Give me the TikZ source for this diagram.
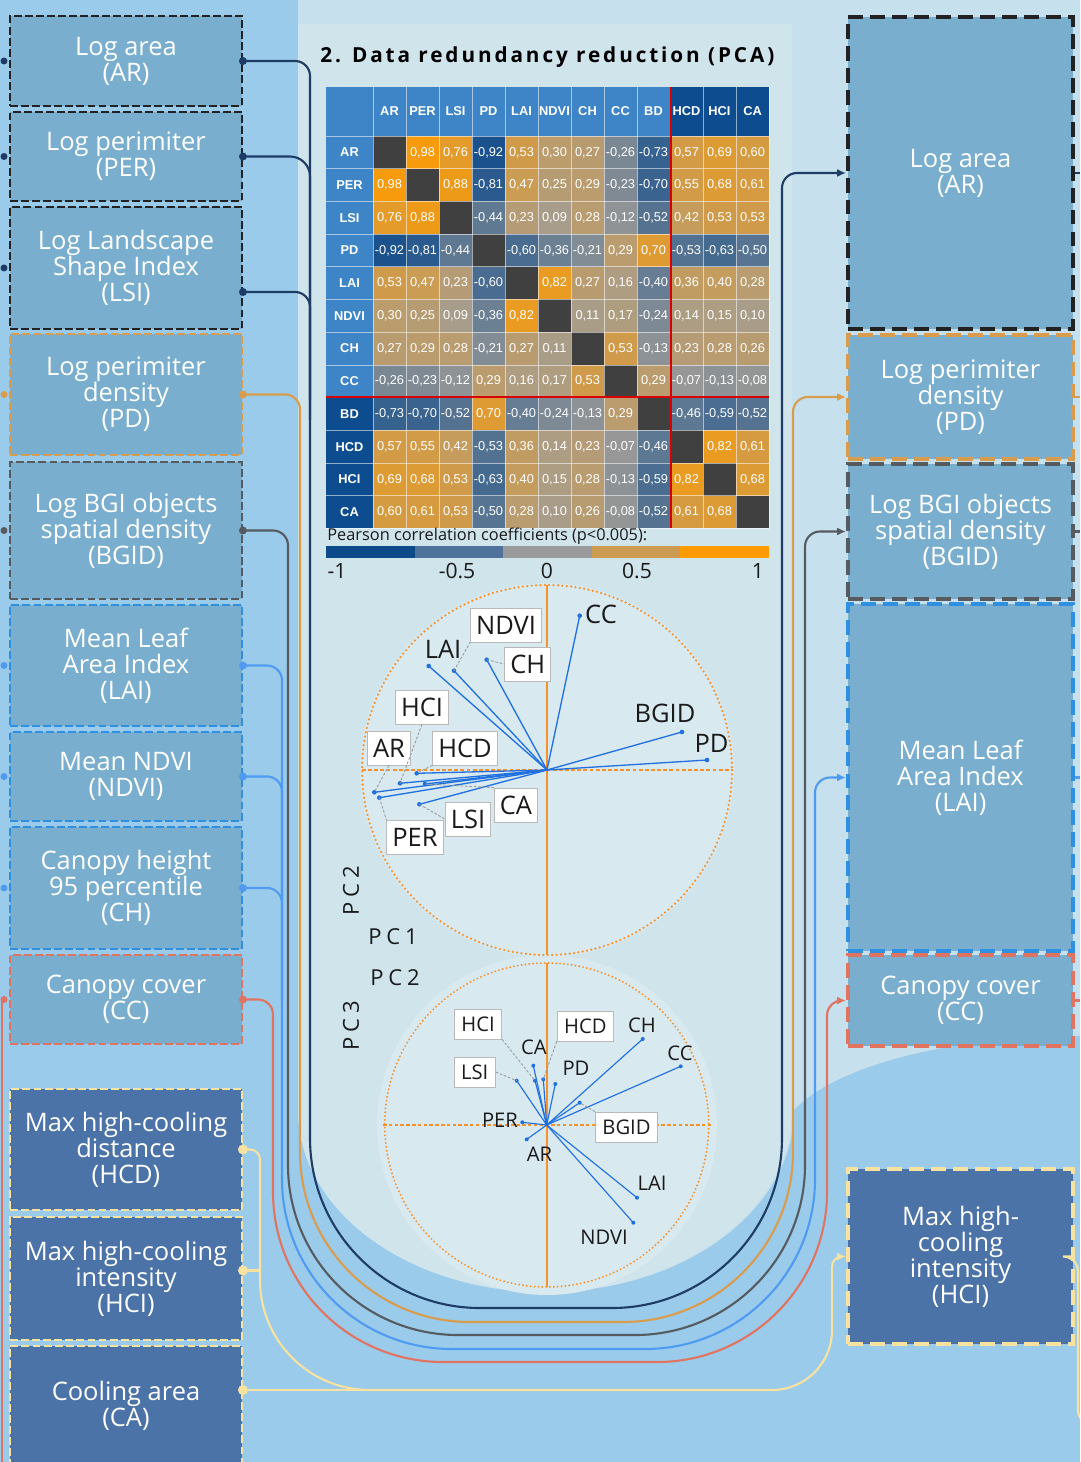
\documentclass[tikz,border=0pt]{standalone}
\usepackage{fontspec}
\setmainfont{Open Sans}
\newfontfamily\tablefont{Liberation Sans}
\definecolor{bgblue}{HTML}{9ACBEB}
\definecolor{bgpale}{HTML}{C6E0EE}
\definecolor{panel}{HTML}{D0E4EC}
\definecolor{disc}{HTML}{D8E9F0}
\definecolor{boxsteel}{HTML}{79AECE}
\definecolor{boxnavy}{HTML}{4B73A7}
\definecolor{lnavy}{HTML}{1E3C66}
\definecolor{ldark}{HTML}{222222}
\definecolor{lorange}{HTML}{D99B4C}
\definecolor{lgray}{HTML}{565B60}
\definecolor{lblue}{HTML}{4F9BF2}
\definecolor{bblue}{HTML}{2F8FE0}
\definecolor{lred}{HTML}{E07460}
\definecolor{lyellow}{HTML}{F8E2A0}
\definecolor{vecblue}{HTML}{2070E0}
\definecolor{axisor}{HTML}{F7922A}
\definecolor{headblue}{HTML}{3D85C6}
\definecolor{headnavy}{HTML}{0D4C8E}
\definecolor{negc}{HTML}{0F4C8C}
\definecolor{midc}{HTML}{A09D97}
\definecolor{posc}{HTML}{F99A08}
\definecolor{diagc}{HTML}{404040}
\definecolor{leg1}{HTML}{0D4A8A}
\definecolor{leg2}{HTML}{4F729C}
\definecolor{leg3}{HTML}{9B9B9B}
\definecolor{leg4}{HTML}{CB9B52}
\definecolor{leg5}{HTML}{FF9B00}
\definecolor{inktext}{HTML}{1A1A1A}
\usepackage{tikz}
\usetikzlibrary{calc, positioning, arrows.meta}

\begin{document}
\begin{tikzpicture}[x=0.02cm, y=-0.02cm,
  vbox/.style={draw, line width=1.1pt, dash pattern=on 4.5pt off 1.8pt, text=white, align=center,
    minimum width=4.64cm, inner sep=0pt, font=\fontsize{14.5}{14.8}\selectfont},
  rbox/.style={vbox, line width=2.3pt, dash pattern=on 8.5pt off 4pt, minimum width=4.5cm},
  wire/.style={line width=1.2pt},
  arrowin/.style={-{Latex[length=5pt,width=4.5pt]}},
  pcring/.style={draw=axisor, line width=1.4pt, line cap=round, dash pattern=on 0pt off 2.5pt},
  pcaxis/.style={draw=axisor, line width=1.2pt},
  vec/.style={draw=vecblue, line width=0.75pt},
  lead/.style={draw=gray!80, line width=0.5pt, dash pattern=on 1.5pt off 1pt},
  plab/.style={text=inktext, inner sep=1pt, font=\fontsize{14.5}{15}\selectfont},
  blab/.style={plab, draw=gray!55, fill=white, inner xsep=3.2pt, minimum height=0.68cm},
  slab/.style={text=inktext, inner sep=1pt, font=\fontsize{11.5}{12}\selectfont},
  sblab/.style={slab, draw=gray!55, fill=white, inner xsep=4pt, minimum height=0.6cm},
  pclab/.style={text=inktext, font=\fontsize{12.5}{14}\selectfont\addfontfeatures{LetterSpace=22}},
  celltxt/.style={text=white, inner sep=0pt, font=\tablefont\fontsize{7.3}{8}\selectfont},
  headtxt/.style={celltxt, font=\tablefont\bfseries\fontsize{7.3}{8}\selectfont}]

  \useasboundingbox (0,0) rectangle (1080,1462);
  \clip (0,0) rectangle (1080,1462);

  % Backgrounds
  \fill[bgblue] (0,0) rectangle (1080,1462);
  \fill[bgpale] (298,0) -- (1080,0) -- (1080,1036) .. controls (940,1036) and (830,1070) .. (794,1110)
    arc[start angle=0, end angle=180, x radius=248, y radius=182] -- cycle;
  \fill[panel] (298,24) -- (792,24) -- (792,1110)
    arc[start angle=0, end angle=180, x radius=247, y radius=182] -- cycle;
  \fill[disc] (547,770) circle[radius=187];
  \fill[disc] (547,1125) circle[radius=170];

  % Left: input variables
  \foreach \nm/\yc/\hh/\dy/\bc/\wc/\fc/\txt in {
    AR/61/1.8/0/ldark/lnavy/boxsteel/{Log area\\(AR)},
    PER/156.5/1.78/0/ldark/lnavy/boxsteel/{Log perimiter\\(PER)},
    LSI/268/2.44/24/ldark/lnavy/boxsteel/{Log Landscape\\Shape Index\\(LSI)},
    PD/394.5/2.42/0/lorange/lorange/boxsteel/{Log perimiter\\density\\(PD)},
    BGID/530.5/2.74/0/lgray/lgray/boxsteel/{Log BGI objects\\spatial density\\(BGID)},
    LAI/665.5/2.42/0/bblue/lblue/boxsteel/{Mean Leaf\\Area Index\\(LAI)},
    NDVI/776.5/1.78/0/bblue/lblue/boxsteel/{Mean NDVI\\(NDVI)},
    CH/888/2.44/0/bblue/lblue/boxsteel/{Canopy height\\95 percentile\\(CH)},
    CC/999.5/1.78/0/lred/lred/boxsteel/{Canopy cover\\(CC)},
    HCD/1149.5/2.42/0/lyellow/lyellow/boxnavy/{Max high-cooling\\distance\\(HCD)},
    HCI/1278.5/2.46/-8/lyellow/lyellow/boxnavy/{Max high-cooling\\intensity\\(HCI)},
    CA/1406/2.4/-16/lyellow/lyellow/boxnavy/{Cooling area\\(CA)}}{
    \node[vbox, draw=\bc, fill=\fc, minimum height=\hh cm] (l\nm) at (126,\yc) {\txt};
    \coordinate (d\nm) at ($(l\nm.east)+(0,\dy)$);
  }
  \foreach \yc/\wc in {61/lnavy, 156.5/lnavy, 268/lnavy, 394.5/lorange, 530.5/lgray,
    665.5/lblue, 776.5/lblue, 888/lblue, 999.5/lred}
    \fill[\wc] (4,\yc) circle[radius=3.5];
  \coordinate (sCC) at (2,1462);
  \draw[wire, lred] (2,999.5) -- (sCC);

  % Right: retained variables
  \foreach \nm/\yc/\hh/\bc/\fc/\txt in {
    AR/173/6.24/ldark/boxsteel/{Log area\\(AR)},
    PD/397/2.48/lorange/boxsteel/{Log perimiter\\density\\(PD)},
    BGID/531.5/2.7/lgray/boxsteel/{Log BGI objects\\spatial density\\(BGID)},
    LAI/777.5/6.94/bblue/boxsteel/{Mean Leaf\\Area Index\\(LAI)},
    CC/1000.5/1.82/lred/boxsteel/{Canopy cover\\(CC)},
    HCI/1256.5/3.5/lyellow/boxnavy/{Max high-\\cooling\\intensity\\(HCI)}}
    \node[rbox, draw=\bc, fill=\fc, minimum height=\hh cm] (r\nm) at (960.5,\yc) {\txt};
  \coordinate (edge) at (1080,0);
  \foreach \nm/\wc in {AR/lnavy, PD/lorange, BGID/lgray, LAI/lblue, CC/lred}
    \draw[wire, \wc] (r\nm.east) -- (r\nm.east -| edge);
  \coordinate (eHCI) at (1080,1425);
  \draw[wire, lyellow, rounded corners=0.3cm] (rHCI.east) -- ++(3,0) |- (eHCI);

  % Connectors round the PCA panel
  \draw[wire, lnavy, arrowin] (dAR) [rounded corners=0.3cm] -- (310,61) [rounded corners=3.4cm]
    -- (310,1308) -- (782,1308) [rounded corners=0.3cm] -- (782,173) -- (rAR.west);
  \draw[wire, lnavy] (dPER) [rounded corners=0.4cm] -- (310,156.5) -- (310,400);
  \draw[wire, lnavy] (dLSI) [rounded corners=0.3cm] -- (310,292) -- (310,420);
  \draw[wire, lorange, arrowin] (dPD) [rounded corners=0.3cm] -- (300,394.5) [rounded corners=3.4cm]
    -- (300,1322) -- (793,1322) [rounded corners=0.3cm] -- (793,397) -- (rPD.west);
  \draw[wire, lgray, arrowin] (dBGID) [rounded corners=0.3cm] -- (288,530.5) [rounded corners=3.4cm]
    -- (288,1335) -- (805,1335) [rounded corners=0.3cm] -- (805,531.5) -- (rBGID.west);
  \draw[wire, lblue, arrowin] (dLAI) [rounded corners=0.3cm] -- (282,665.5) [rounded corners=3.4cm]
    -- (282,1349) -- (815,1349) [rounded corners=0.3cm] -- (815,777.5) -- (rLAI.west);
  \draw[wire, lblue] (dNDVI) [rounded corners=0.3cm] -- (282,776.5) -- (282,900);
  \draw[wire, lblue] (dCH) [rounded corners=0.3cm] -- (282,888) -- (282,1000);
  \draw[wire, lred, arrowin] (dCC) [rounded corners=0.3cm] -- (273,999.5) [rounded corners=3.4cm]
    -- (273,1362) -- (827,1362) [rounded corners=0.3cm] -- (827,1000.5) -- (rCC.west);
  \draw[wire, lyellow, arrowin] (dHCD) [rounded corners=0.2cm] -- (260,1149.5) [rounded corners=2.2cm]
    -- (260,1390) [rounded corners=1.2cm] -- (832,1390) [rounded corners=0.2cm] -- (832,1256.5)
    -- (rHCI.west);
  \draw[wire, lyellow] (dHCI) -- (260,1270.5);
  \draw[wire, lyellow] (dCA) -- (600,1390);
  \foreach \nm/\wc/\rr in {AR/lnavy/4, PER/lnavy/4, LSI/lnavy/4, PD/lorange/4, BGID/lgray/4,
    LAI/lblue/4, NDVI/lblue/4, CH/lblue/4, CC/lred/4, HCD/lyellow/5, HCI/lyellow/5, CA/lyellow/5}
    \fill[\wc] (d\nm) circle[radius=\rr];

  % Title
  \node[anchor=west, inner sep=0pt, text=black,
    font=\fontsize{11.8}{13}\selectfont\bfseries\addfontfeatures{LetterSpace=14}]
    (title) at (320,57) {2. Data redundancy reduction (PCA)};

  % Correlation matrix
  \fill[headblue] (326,87) rectangle (671,136);
  \fill[headnavy] (671,87) rectangle (769,136);
  \fill[headblue] (326,136) rectangle (373,397);
  \fill[headnavy] (326,397) rectangle (373,528);
  \foreach \lab [count=\ii from 0] in {AR,PER,LSI,PD,LAI,NDVI,CH,CC,BD,HCD,HCI,CA}{
    \node[headtxt] (ch\ii) at (389.5+33*\ii,111.5) {\lab};
    \node[headtxt] (rh\ii) at (349.5,152.35+32.7*\ii) {\lab};
  }
  \foreach \row [count=\ri from 0] in {
    {2,0.98,0.76,-0.92,0.53,0.30,0.27,-0.26,-0.73,0.57,0.69,0.60},
    {0.98,2,0.88,-0.81,0.47,0.25,0.29,-0.23,-0.70,0.55,0.68,0.61},
    {0.76,0.88,2,-0.44,0.23,0.09,0.28,-0.12,-0.52,0.42,0.53,0.53},
    {-0.92,-0.81,-0.44,2,-0.60,-0.36,-0.21,0.29,0.70,-0.53,-0.63,-0.50},
    {0.53,0.47,0.23,-0.60,2,0.82,0.27,0.16,-0.40,0.36,0.40,0.28},
    {0.30,0.25,0.09,-0.36,0.82,2,0.11,0.17,-0.24,0.14,0.15,0.10},
    {0.27,0.29,0.28,-0.21,0.27,0.11,2,0.53,-0.13,0.23,0.28,0.26},
    {-0.26,-0.23,-0.12,0.29,0.16,0.17,0.53,2,0.29,-0.07,-0.13,-0.08},
    {-0.73,-0.70,-0.52,0.70,-0.40,-0.24,-0.13,0.29,2,-0.46,-0.59,-0.52},
    {0.57,0.55,0.42,-0.53,0.36,0.14,0.23,-0.07,-0.46,2,0.82,0.61},
    {0.69,0.68,0.53,-0.63,0.40,0.15,0.28,-0.13,-0.59,0.82,2,0.68},
    {0.60,0.61,0.53,-0.50,0.28,0.10,0.26,-0.08,-0.52,0.61,0.68,2}}{
    \foreach \val [count=\ci from 0] in \row {
      \pgfmathsetmacro\cx{373+33*\ci}
      \pgfmathsetmacro\cy{136+32.7*\ri}
      \ifdim\val pt>1.5pt
        \fill[diagc] (\cx,\cy) rectangle ++(33,32.7);
      \else
        \pgfmathtruncatemacro\pc{round(abs(\val)*100)}
        \ifdim\val pt<0pt \colorlet{cellc}{negc!\pc!midc}\else \colorlet{cellc}{posc!\pc!midc}\fi
        \fill[cellc] (\cx,\cy) rectangle ++(33,32.7);
        \node[celltxt] (m\ri-\ci) at (\cx+16.5,\cy+16.35)
          {\pgfmathprintnumber[fixed, fixed zerofill, precision=2, use comma, assume math mode=true]{\val}};
      \fi
    }
  }
  \foreach \ci in {0,...,12}
    \draw[white, opacity=0.55, line width=0.4pt] (373+33*\ci,87) -- (373+33*\ci,528);
  \foreach \ri in {0,...,12}
    \draw[white, opacity=0.55, line width=0.4pt] (326,136+32.7*\ri) -- (769,136+32.7*\ri);
  \draw[red!85!black, line width=0.6pt] (671,87) -- (671,528);
  \draw[red!85!black, line width=0.6pt] (326,397) -- (769,397);

  % Colour key
  \node[anchor=west, inner sep=0pt, text=inktext, font=\fontsize{9.3}{11}\selectfont]
    (legtitle) at (327,536) {Pearson correlation coefficients (p<0.005):};
  \foreach \cc [count=\ii from 0] in {leg1,leg2,leg3,leg4,leg5}
    \fill[\cc] (326+88.6*\ii,546) rectangle ++(88.6,12);
  \foreach \t/\tx in {-1/337, -0.5/457, 0/547, 0.5/637, 1/758}
    \node[text=inktext, font=\fontsize{12}{14}\selectfont] (tk\tx) at (\tx,571) {\t};

  % PC1 / PC2 loadings
  \coordinate (o1) at (547,770);
  \draw[pcaxis, dash pattern=on 2.2pt off 1.3pt] (362,770) -- (733,770);
  \draw[pcaxis] (547,585) -- (547,955);
  \draw[pcring] (o1) circle[radius=185];
  \foreach \nm/\px/\py in {CC/579.7/615.7, BGID/682/732, PD/707/760, LAI/428.7/666,
    NDVI/454/670.7, CH/486.7/659.7, HCD/416.7/773.3, HCI/400/783.3, CA/425/784,
    AR/374.3/792.3, PER/379.3/797.7, LSI/419.3/804.3}{
    \draw[vec] (o1) -- (\px,\py) coordinate (a\nm);
    \fill[vecblue] (a\nm) circle[radius=2.3];
  }
  \foreach \nm/\px/\py in {CC/601/614, BGID/665/713, PD/711.5/743, LAI/443/649}
    \node[plab] (t\nm) at (\px,\py) {\nm};
  \foreach \nm/\px/\py in {NDVI/506/625, CH/527.7/664, HCI/422/707, AR/389/748,
    HCD/465/748, CA/516/805, LSI/468/819, PER/415/837}
    \node[blab] (t\nm) at (\px,\py) {\nm};
  \draw[lead] (aNDVI) -- (tNDVI.south west);
  \draw[lead] (aCH) -- (tCH.west);
  \draw[lead] (tHCI.south) -- (aHCI);
  \draw[lead] (tAR.south) -- (aAR);
  \draw[lead] (tHCD.south west) -- (aHCD);
  \draw[lead] (tCA.north west) -- (aCA);
  \draw[lead] (aLSI) -- (tLSI.west);
  \draw[lead] (aPER) -- (tPER.north west);
  \node[pclab, rotate=90] (pc2a) at (351,891) {PC2};
  \node[pclab] (pc1) at (393,937) {PC1};

  % PC2 / PC3 loadings
  \coordinate (o2) at (546.7,1125);
  \draw[pcaxis, line width=1pt, dash pattern=on 2pt off 1.3pt] (383,1125) -- (712,1125);
  \draw[pcaxis, line width=1pt] (546.7,963) -- (546.7,1287);
  \draw[pcring, line width=1.2pt, dash pattern=on 0pt off 2.2pt] (o2) circle[radius=162];
  \foreach \nm/\px/\py in {CH/642.7/1039, CC/680.7/1066.3, BGID/579.7/1102.7, PD/555.3/1084,
    CA/533.3/1065.7, HCI/535/1080.7, HCD/543.3/1079.3, LSI/516.7/1080.7, PER/522.3/1122.3,
    AR/526.7/1139.3, LAI/637/1197.7, NDVI/633.3/1222.7}{
    \draw[vec, line width=0.65pt] (o2) -- (\px,\py) coordinate (b\nm);
    \fill[vecblue] (b\nm) circle[radius=2];
  }
  \foreach \nm/\px/\py in {CH/642/1025, CC/680/1053, PD/576/1068, CA/534/1047, PER/500/1120,
    AR/539.5/1154, LAI/652/1183, NDVI/604/1237}
    \node[slab] (u\nm) at (\px,\py) {\nm};
  \foreach \nm/\px/\py in {HCI/478/1024, HCD/585.3/1026, LSI/474.7/1072, BGID/626.5/1127}
    \node[sblab] (u\nm) at (\px,\py) {\nm};
  \draw[lead] (uHCI.south east) -- (bHCI);
  \draw[lead] (uHCD.south west) -- (bHCD);
  \draw[lead] (uLSI.east) -- (bLSI);
  \draw[lead] (uBGID.north west) -- (bBGID);
  \node[pclab] (pc2b) at (395,978) {PC2};
  \node[pclab, rotate=90] (pc3) at (351,1026) {PC3};
\end{tikzpicture}
\end{document}
